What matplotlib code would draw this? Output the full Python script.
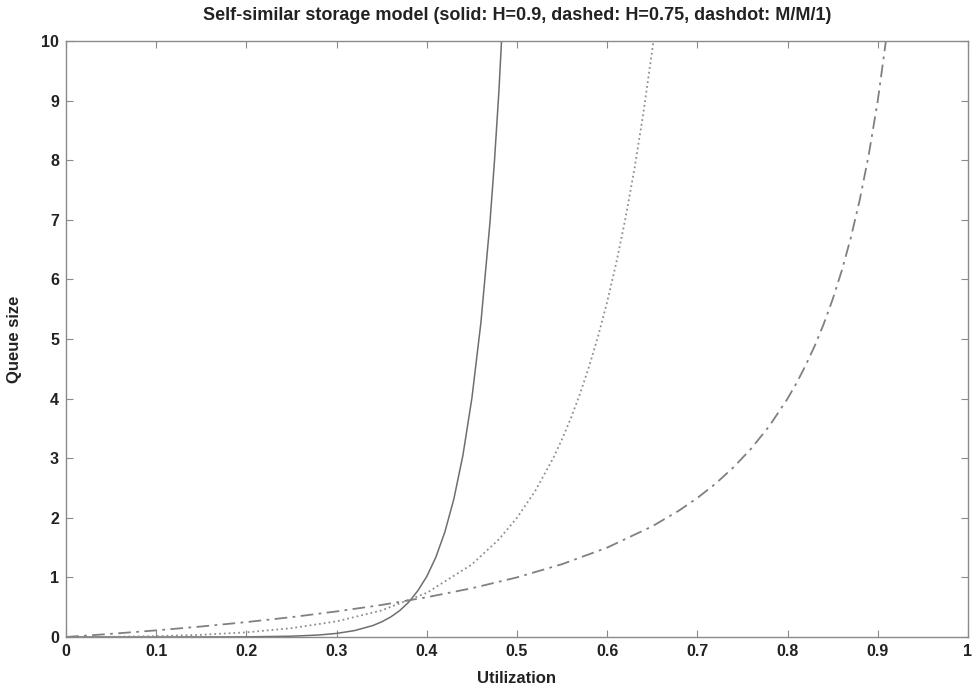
import matplotlib
matplotlib.use("Agg")
import matplotlib.pyplot as plt

# H=0.9 (solid)
util_h09 = [0.0, 0.05, 0.10, 0.15, 0.20, 0.25, 0.28, 0.30, 0.32, 0.34, 0.35, 0.36, 0.37, 0.38,
            0.39, 0.40, 0.41, 0.42, 0.43, 0.44, 0.45, 0.46, 0.47, 0.475, 0.48, 0.49]
queue_h09 = [0.0, 0.0, 0.0, 0.0003, 0.0024, 0.013, 0.033, 0.060, 0.108, 0.191, 0.254, 0.336, 0.443, 0.585,
             0.775, 1.016, 1.337, 1.760, 2.315, 3.045, 4.007, 5.275, 6.950, 7.98, 9.17, 12.10]

# H=0.75 (dotted in the figure, "dashed" in the title)
util_h075 = [0.0, 0.05, 0.10, 0.15, 0.20, 0.25, 0.30, 0.35, 0.40, 0.45, 0.48, 0.50, 0.52, 0.54,
             0.55, 0.56, 0.57, 0.58, 0.59, 0.60, 0.61, 0.62, 0.63, 0.64, 0.65, 0.66]
queue_h075 = [0.0, 0.003, 0.014, 0.037, 0.078, 0.148, 0.262, 0.446, 0.741, 1.217, 1.639, 2.0, 2.445, 2.996,
              3.320, 3.681, 4.087, 4.541, 5.051, 5.625, 6.273, 7.006, 7.836, 8.779, 9.854, 11.08]

# M/M/1 (dashdot)
util_mm1 = [0.0, 0.05, 0.10, 0.15, 0.20, 0.25, 0.30, 0.35, 0.40, 0.45, 0.50, 0.55,
            0.60, 0.65, 0.68, 0.70, 0.72, 0.74, 0.76, 0.78, 0.80, 0.81, 0.82, 0.83, 0.84,
            0.85, 0.86, 0.87, 0.88, 0.89, 0.90, 0.91]
queue_mm1 = [0.0, 0.053, 0.111, 0.176, 0.25, 0.333, 0.429, 0.538, 0.667, 0.818, 1.0, 1.222,
             1.5, 1.857, 2.125, 2.333, 2.571, 2.846, 3.167, 3.545, 4.0, 4.263, 4.556, 4.882, 5.25,
             5.667, 6.143, 6.692, 7.333, 8.091, 9.0, 10.11]

x_ticks = [0, 0.1, 0.2, 0.3, 0.4, 0.5, 0.6, 0.7, 0.8, 0.9, 1]
x_labels = ["0", "0.1", "0.2", "0.3", "0.4", "0.5", "0.6", "0.7", "0.8", "0.9", "1"]
y_ticks = list(range(0, 11))

plt.rcParams["font.family"] = ["Liberation Sans", "DejaVu Sans"]

fig = plt.figure(figsize=(9.75, 6.97), dpi=100)
ax = fig.add_axes([0.0677, 0.0861, 0.9251, 0.8551])

ax.plot(util_h09, queue_h09, "-", color="#6e6e6e", lw=1.1)
ax.plot(util_h075, queue_h075, ":", color="#8f8f8f", lw=1.3)
ax.plot(util_mm1, queue_mm1, color="#808080", lw=1.3, dashes=(7, 3, 1.5, 3))

ax.set_xlim(0, 1)
ax.set_ylim(0, 10)
ax.set_xticks(x_ticks)
ax.set_xticklabels(x_labels)
ax.set_yticks(y_ticks)

for s in ax.spines.values():
    s.set_color("#8a8a8a")
    s.set_linewidth(1.0)
ax.tick_params(direction="in", length=5, width=0.8, color="#8a8a8a",
               top=True, right=True, labelsize=11.5, labelcolor="#222222", pad=5)
for lab in ax.get_xticklabels() + ax.get_yticklabels():
    lab.set_fontweight("bold")

ax.set_xlabel("Utilization", fontsize=12, fontweight="bold", color="#222222", labelpad=9)
ax.set_ylabel("Queue size", fontsize=12, fontweight="bold", color="#222222", labelpad=14)
ax.set_title("Self-similar storage model (solid: H=0.9, dashed: H=0.75, dashdot: M/M/1)",
             fontsize=13, fontweight="bold", color="#222222", pad=15)

fig.savefig("out.png", dpi=100)
